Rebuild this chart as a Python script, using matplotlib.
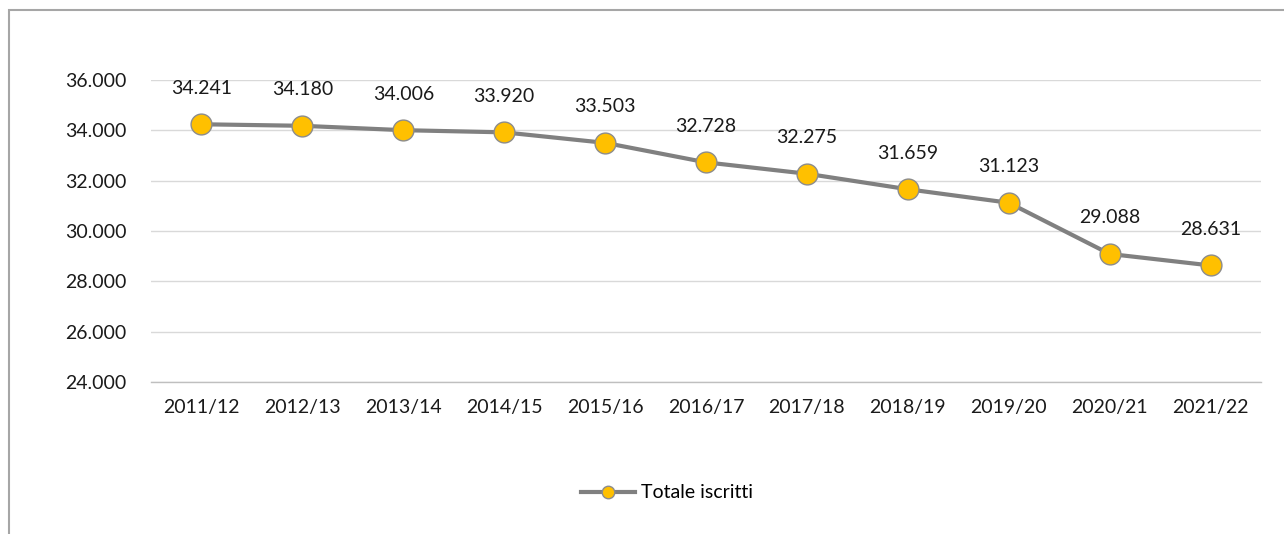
import matplotlib.pyplot as plt
from matplotlib.lines import Line2D
from matplotlib.patches import Rectangle
from matplotlib.ticker import FuncFormatter

# Dati
anni = ['2011/12', '2012/13', '2013/14', '2014/15', '2015/16', '2016/17',
        '2017/18', '2018/19', '2019/20', '2020/21', '2021/22']
iscritti = [34241, 34180, 34006, 33920, 33503, 32728, 32275, 31659, 31123, 29088, 28631]
y_ticks = [24000, 26000, 28000, 30000, 32000, 34000, 36000]

def fmt_it(v, pos=None):
    return f'{int(v):,}'.replace(',', '.')

plt.rcParams['font.family'] = ['Lato', 'DejaVu Sans']

fig = plt.figure(figsize=(12.84, 5.34), dpi=100)
ax = fig.add_axes([151 / 1284, 1 - 382 / 534, 1110 / 1284, 302 / 534])

x = range(len(anni))
ax.plot(x, iscritti, color='#808080', linewidth=3, marker='o', markersize=15,
        markerfacecolor='#FFC000', markeredgecolor='#8c8c8c', markeredgewidth=1,
        zorder=3, clip_on=False)

for xi, v in zip(x, iscritti):
    ax.annotate(fmt_it(v), (xi, v), textcoords='offset points', xytext=(0, 26),
                ha='center', va='center', fontsize=14, color='#1a1a1a')

ax.set_xlim(-0.5, len(anni) - 0.5)
ax.set_ylim(24000, 36000)
ax.set_yticks(y_ticks)
ax.yaxis.set_major_formatter(FuncFormatter(fmt_it))
ax.set_xticks(list(x))
ax.set_xticklabels(anni)
ax.tick_params(axis='both', length=0, labelsize=14, colors='#1a1a1a')
ax.tick_params(axis='y', pad=62)
ax.tick_params(axis='x', pad=12)
for lab in ax.get_yticklabels():
    lab.set_horizontalalignment('left')
ax.grid(axis='y', color='#d9d9d9', linewidth=1)
ax.set_axisbelow(True)
for s in ['top', 'right', 'left']:
    ax.spines[s].set_visible(False)
ax.spines['bottom'].set_color('#bfbfbf')
ax.spines['bottom'].set_linewidth(1)

# Cornice del grafico
fig.patches.append(Rectangle((9 / 1284, -0.1), 1.2, 1.1 - 10 / 534, transform=fig.transFigure,
                             fill=False, edgecolor='#a6a6a6', linewidth=1.5))

handle = Line2D([], [], color='#808080', linewidth=3, marker='o', markersize=9,
                markerfacecolor='#FFC000', markeredgecolor='#8c8c8c')
fig.legend([handle], ['Totale iscritti'], loc='center', bbox_to_anchor=(667 / 1284, 1 - 493 / 534),
           frameon=False, fontsize=14, handlelength=2.8, handletextpad=0.3)

fig.savefig('out.png', dpi=100)
